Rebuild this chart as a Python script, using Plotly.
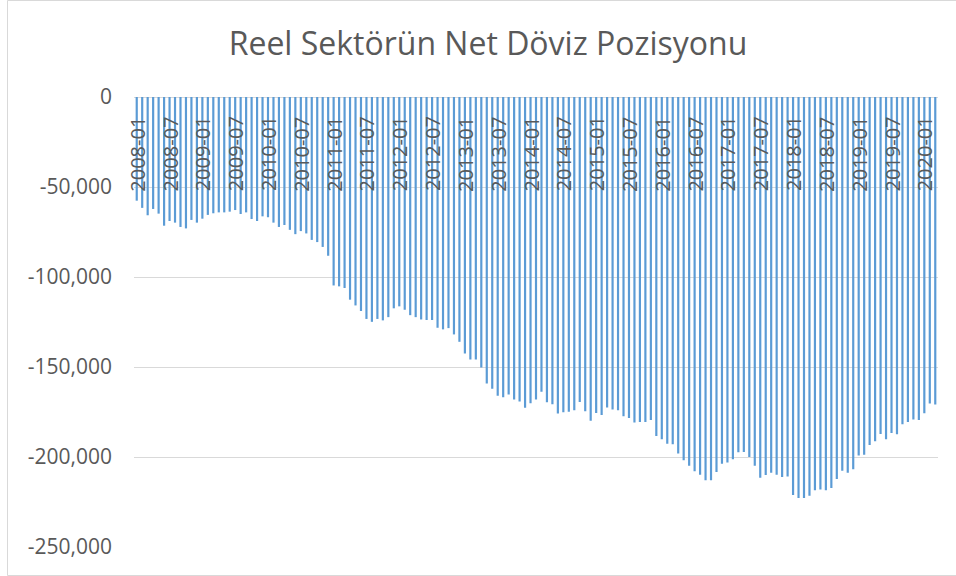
import plotly.graph_objects as go

# Monthly categories 2008-01 .. 2020-03
months = [f"{y}-{m:02d}" for y in range(2008, 2021) for m in range(1, 13)][:147]

net_fx_position = [
    -57600, -61600, -65700, -62200, -64800, -71500, -68900, -69800, -72200, -73000, -68300, -69800,
    -67600, -65500, -64600, -64100, -64100, -63700, -62800, -65000, -64100, -67800, -68900, -66300,
    -66800, -69800, -72200, -71100, -73800, -76200, -74500, -75800, -79400, -80600, -83300, -88200,
    -104700, -105200, -106100, -112600, -115800, -118900, -123300, -124900, -123300, -124100, -122300, -117400,
    -116300, -118200, -121200, -122300, -123600, -123900, -123900, -128200, -129100, -128400, -131900, -136000,
    -142500, -145800, -145800, -150300, -159200, -162100, -166000, -166800, -165300, -168100, -169200, -172700,
    -170100, -168100, -163800, -169600, -170700, -175900, -175100, -174900, -174000, -169400, -174600, -179900,
    -175500, -176600, -172500, -173600, -174000, -177300, -178400, -180900, -180500, -180500, -179400, -188400,
    -190100, -192600, -192900, -198100, -201800, -204800, -207900, -209800, -212900, -212900, -208300, -203700,
    -203100, -201300, -197400, -197200, -200000, -204800, -211500, -210000, -208700, -209800, -211100, -210900,
    -221100, -222800, -222800, -221500, -218500, -218100, -218500, -217200, -212200, -207600, -208700, -206800,
    -199200, -198700, -193300, -191200, -187200, -190100, -186600, -187400, -181800, -180500, -179200, -179400,
    -175700, -170300, -170900,
]

x_tick_labels = months[::6]
y_tick_vals = [0, -50000, -100000, -150000, -200000, -250000]
y_tick_text = ["0", "-50,000", "-100,000", "-150,000", "-200,000", "-250,000"]

title_text = "Reel Sektörün Net Döviz Pozisyonu"

FONT = "Open Sans"
GRAY = "#595959"
GRID = "#D9D9D9"

ML, MR, MT, MB = 134, 18, 97, 29
PW, PH = 956 - ML - MR, 576 - MT - MB

fig = go.Figure(
    go.Bar(
        x=months,
        y=net_fx_position,
        marker=dict(color="#5B9BD5", line=dict(width=0)),
    )
)

fig.update_layout(
    width=956,
    height=576,
    margin=dict(l=ML, r=MR, t=MT, b=MB, autoexpand=False),
    paper_bgcolor="white",
    plot_bgcolor="white",
    bargap=0.6,
    showlegend=False,
    title=dict(
        text=title_text,
        x=488 / 956,
        xanchor="center",
        y=1 - 44 / 576,
        yanchor="middle",
        yref="container",
        font=dict(family=FONT, size=32, color=GRAY),
    ),
    font=dict(family=FONT, color=GRAY),
)

fig.update_xaxes(
    type="category",
    showticklabels=False,
    showgrid=False,
    showline=False,
    ticks="",
    automargin=False,
    range=[-0.5, len(months) - 0.5],
)

fig.update_yaxes(
    range=[-250000, 0],
    tickmode="array",
    tickvals=y_tick_vals,
    ticktext=y_tick_text,
    tickfont=dict(family=FONT, size=21, color=GRAY),
    showgrid=True,
    gridcolor=GRID,
    gridwidth=1,
    zeroline=True,
    zerolinecolor=GRID,
    zerolinewidth=1,
    showline=False,
    ticks="",
    ticklabelstandoff=21,
    automargin=False,
)

# category labels drawn just below the zero line (as in the original)
for lab in x_tick_labels:
    fig.add_annotation(
        x=lab,
        xref="x",
        y=(576 - MB - 154) / PH,
        yref="paper",
        text=lab,
        textangle=-90,
        showarrow=False,
        xanchor="center",
        yanchor="middle",
        font=dict(family=FONT, size=20, color=GRAY),
    )

# outer chart border
fig.add_shape(
    type="rect",
    xref="paper",
    yref="paper",
    x0=(7.5 - ML) / PW,
    x1=(957 - ML) / PW,
    y0=(576 - MB - 575.5) / PH,
    y1=(576 - MB - 0.5) / PH,
    line=dict(color=GRID, width=1),
    fillcolor="rgba(0,0,0,0)",
    layer="below",
)

fig.write_html(
    "out.html",
    config={"displayModeBar": False},
    post_script="document.body.style.margin='0';document.body.style.overflow='hidden';",
)
